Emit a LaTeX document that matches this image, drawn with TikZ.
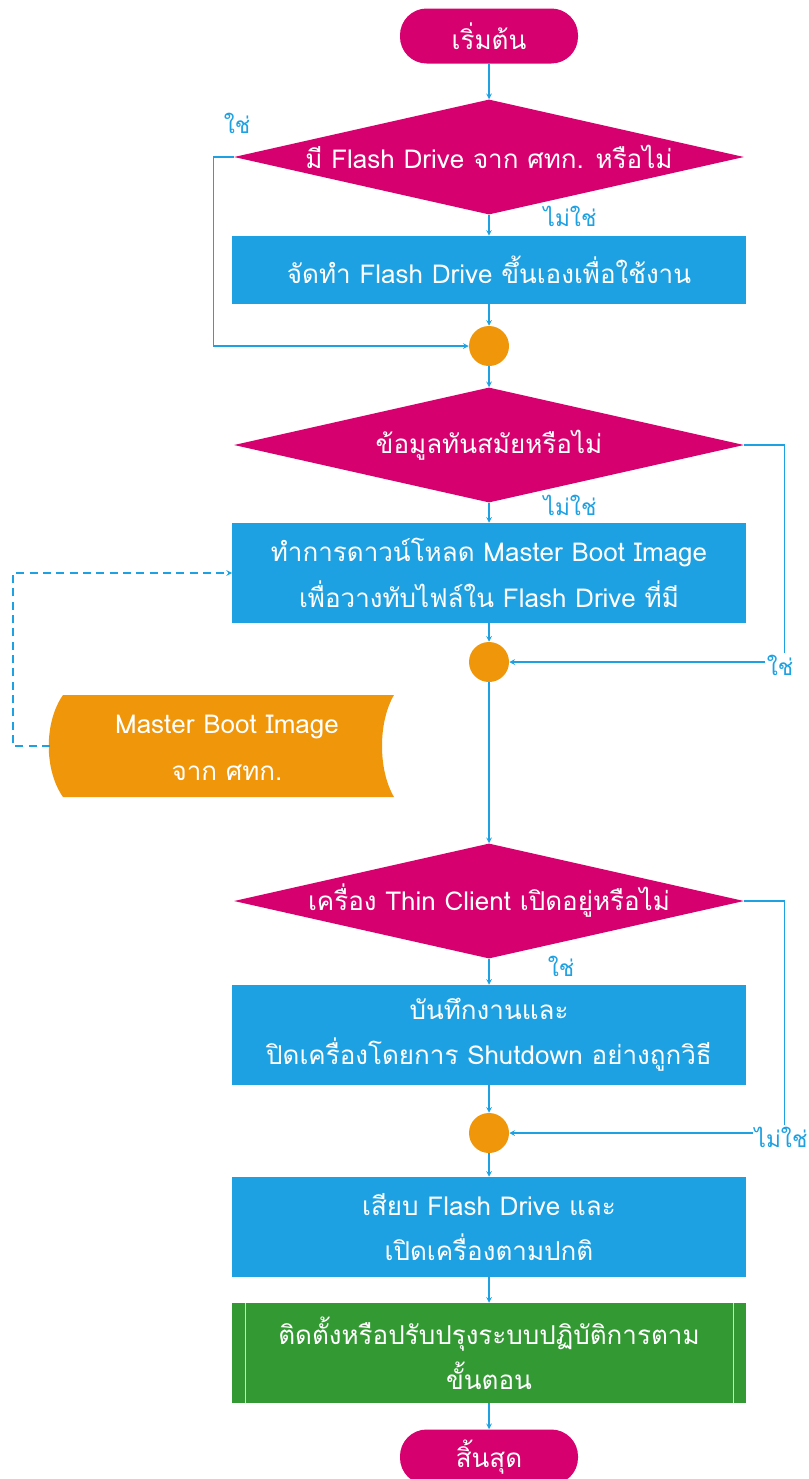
\documentclass[tikz,border=0pt]{standalone}
\usepackage{fontspec}
\setmainfont[Script=Thai]{Loma}
\usetikzlibrary{arrows}
\usetikzlibrary{shapes.geometric}
\definecolor{termpink}{RGB}{214,0,111}
\definecolor{procblue}{RGB}{29,161,226}
\definecolor{joinorange}{RGB}{240,150,10}
\definecolor{subgreen}{RGB}{51,153,51}

\begin{document}
\begin{tikzpicture}[
      x=0.75pt, y=-0.75pt,
      every node/.style={font=\fontsize{19.5}{34}\selectfont},
      terminal/.style={fill=termpink,text=white,rounded corners=20pt,
        minimum width=133.5pt,minimum height=41.25pt},
      decision/.style={diamond,fill=termpink,inner sep=0pt,
        minimum width=382.5pt,minimum height=86.25pt},
      process/.style={fill=procblue,text=white,align=center,
        minimum width=385pt,minimum height=75pt},
      junction/.style={circle,fill=joinorange,minimum size=30pt,inner sep=0pt},
      answer/.style={text=procblue,inner sep=1pt,font=\fontsize{17}{20}\selectfont},
      flow/.style={procblue,line width=0.9pt,->,>=stealth},
    ]
    \useasboundingbox (0,0) rectangle (809,1479);
    % Main column.
    \node[terminal] (start) at (489,36) {เริ่มต้น};
    \node[decision] (flash) at (489,157) {};
    \node[text=white] at (flash) {มี Flash Drive จาก ศทก. หรือไม่};
    \node[process,minimum height=51pt] (make) at (489,270) {จัดทำ Flash Drive ขึ้นเองเพื่อใช้งาน};
    \node[junction] (j1) at (489,346) {};
    \node[decision] (update) at (489,445) {};
    \node[text=white] at (update) {ข้อมูลทันสมัยหรือไม่};
    \node[process] (download) at (489,573) {ทำการดาวน์โหลด Master Boot Image\\เพื่อวางทับไฟล์ใน Flash Drive ที่มี};
    \node[junction] (j2) at (489,662) {};
    \node[decision] (client) at (489,901) {};
    \node[text=white] at (client) {เครื่อง Thin Client เปิดอยู่หรือไม่};
    \node[process] (save) at (489,1035) {บันทึกงานและ\\ปิดเครื่องโดยการ Shutdown อย่างถูกวิธี};
    \node[junction] (j3) at (489,1133) {};
    \node[process] (plug) at (489,1227) {เสียบ Flash Drive และ\\เปิดเครื่องตามปกติ};
    \node[process,fill=subgreen] (install) at (489,1353) {ติดตั้งหรือปรับปรุงระบบปฏิบัติการตาม\\ขั้นตอน};
    \node[terminal] (stop) at (489,1457) {สิ้นสุด};
    \draw[white!75!subgreen] ([xshift=9.75pt]install.north west) -- ([xshift=9.75pt]install.south west);
    \draw[white!75!subgreen] ([xshift=-9.75pt]install.north east) -- ([xshift=-9.75pt]install.south east);

    % Stored data shape.
    \fill[joinorange] (63,695) -- (394,695) .. controls (378,722) and (378,770) .. (394,797)
        -- (63,797) .. controls (44,770) and (44,722) .. (63,695) -- cycle;
    \coordinate (imgleft) at (50,746);
    \node[text=white,align=center,font=\fontsize{19.5}{35}\selectfont] (image) at (227,748)
        {Master Boot Image\\จาก ศทก.};

    % Draw the connectors.
    \draw[flow] (start) -- (flash);
    \draw[flow] (flash) -- (make);
    \draw[flow] (make) -- (j1);
    \draw[flow] (flash.west) -- ++(-20,0) |- (j1);
    \draw[flow] (j1) -- (update);
    \draw[flow] (update) -- (download);
    \draw[flow] (download) -- (j2);
    \draw[flow] (update.east) -- ++(40,0) |- (j2);
    \draw[flow,dash pattern=on 6pt off 4pt] (imgleft) -- ++(-37,0) |- (download.west);
    \draw[flow] (j2) -- (client);
    \draw[flow] (client) -- (save);
    \draw[flow] (save) -- (j3);
    \draw[flow] (client.east) -- ++(40,0) |- (j3);
    \draw[flow] (j3) -- (plug);
    \draw[flow] (plug) -- (install);
    \draw[flow] (install) -- (stop);

    % Answers.
    \node[answer] (yes1) at (237,123) {ใช่};
    \node[answer] (no1) at (570,216) {ไม่ใช่};
    \node[answer] (no2) at (570,505) {ไม่ใช่};
    \node[answer,fill=white] (yes2) at (780,665) {ใช่};
    \node[answer] (yes3) at (561,966) {ใช่};
    \node[answer,fill=white] (no3) at (781,1137) {ไม่ใช่};
\end{tikzpicture}
\end{document}
